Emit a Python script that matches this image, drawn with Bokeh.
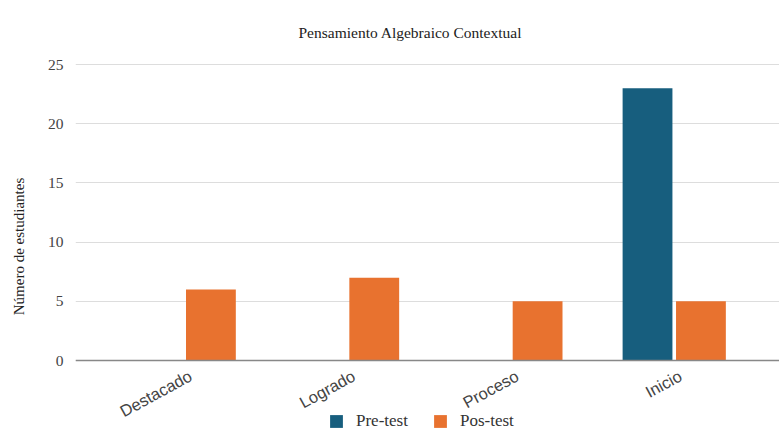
from bokeh.plotting import figure
from bokeh.models import ColumnDataSource, Range1d, FixedTicker, Legend, LegendItem, Span
from bokeh.core.properties import value
from bokeh.transform import dodge
from bokeh.embed import file_html
from bokeh.resources import INLINE

categories = ["Destacado", "Logrado", "Proceso", "Inicio"]
pre_test = [0, 0, 0, 23]
pos_test = [6, 7, 5, 5]
y_ticks = [0, 5, 10, 15, 20, 25]

xpos = [i + 0.5 for i in range(len(categories))]
src = ColumnDataSource(dict(x=xpos, pre=pre_test, pos=pos_test,
                            cat=categories, base=[0] * len(categories)))

p = figure(width=779, height=432, output_backend="svg", toolbar_location=None,
           x_range=Range1d(-0.167, 4.143), y_range=Range1d(-6.08, 25.34),
           min_border_left=75, min_border_right=0, min_border_top=60,
           min_border_bottom=0)

p.title.text = "Pensamiento Algebraico Contextual"
p.title.align = "left"
p.title.offset = 223
p.title.text_font = "Liberation Serif"
p.title.text_font_style = "normal"
p.title.text_font_size = "15.5px"
p.title.text_color = "#222222"
p.title.standoff = 40

r1 = p.vbar(x=dodge("x", -0.165, range=p.x_range), top="pre", width=0.305,
            source=src, fill_color="#175E7E", line_color=None)
r2 = p.vbar(x=dodge("x", 0.162, range=p.x_range), top="pos", width=0.305,
            source=src, fill_color="#E8722F", line_color=None)

# baseline at zero
p.add_layout(Span(location=0, dimension="width", line_color="#888888", line_width=1.5))

# category labels under the baseline
p.text(x="x", y="base", text="cat", source=src, angle=0.5,
       text_align="right", text_baseline="middle", x_offset=6, y_offset=14,
       text_font=value("Liberation Sans"), text_font_size="16.5px",
       text_color="#444444")

p.xaxis.visible = False

p.yaxis.ticker = FixedTicker(ticks=y_ticks)
p.yaxis.major_label_text_font = "Liberation Serif"
p.yaxis.major_label_text_font_size = "15.5px"
p.yaxis.major_label_text_color = "#444444"
p.yaxis.major_label_standoff = 6
p.yaxis.major_tick_line_color = None
p.yaxis.minor_tick_line_color = None
p.yaxis.axis_line_color = None
p.yaxis.axis_label = "Número de estudiantes"
p.yaxis.axis_label_text_font = "Liberation Serif"
p.yaxis.axis_label_text_font_style = "normal"
p.yaxis.axis_label_text_font_size = "15px"
p.yaxis.axis_label_text_color = "#222222"
p.yaxis.axis_label_standoff = 18

p.xgrid.grid_line_color = None
p.ygrid.grid_line_color = "#dddddd"
p.outline_line_color = None

legend = Legend(items=[LegendItem(label="Pre-test", renderers=[r1]),
                       LegendItem(label="Pos-test", renderers=[r2])],
                orientation="horizontal", location=(253, 1),
                label_text_font="Liberation Serif", label_text_font_size="17px",
                label_text_color="#333333", glyph_width=16, glyph_height=16,
                label_standoff=12, spacing=24, padding=0, margin=0,
                border_line_color=None, background_fill_alpha=0)
p.add_layout(legend, "center")

open("out.html", "w").write(file_html(p, INLINE))
